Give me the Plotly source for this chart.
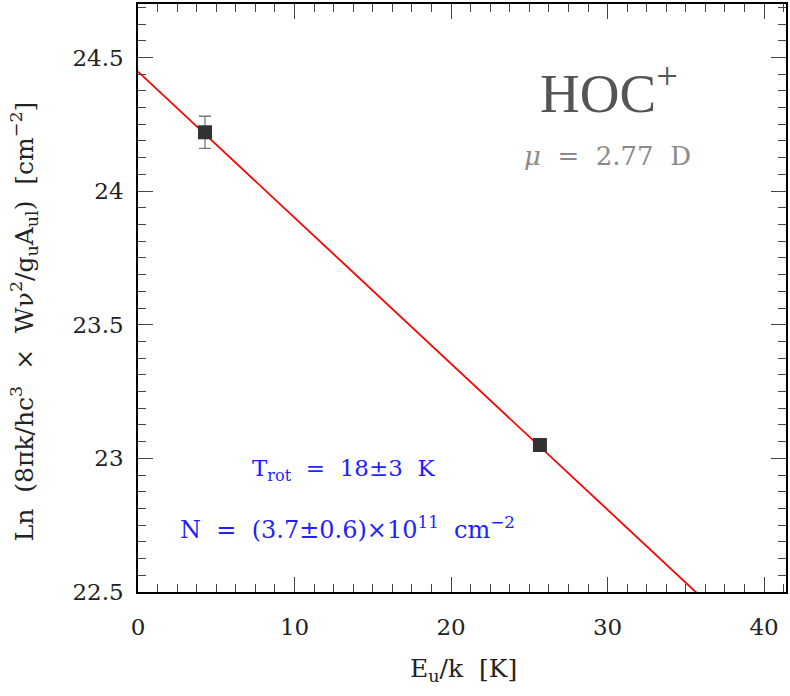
import plotly.graph_objects as go

# Data
eu_k = [4.28, 25.68]            # upper level energies [K]
ln_nu = [24.22, 23.05]          # Ln(...) values
ln_err = [0.06, 0.0]            # error bars
fit_intercept = 24.447          # value at Eu = 0
fit_trot = 18.3                 # rotational temperature [K]
fit_x = [0.0, 41.4]
fit_y = [fit_intercept - x / fit_trot for x in fit_x]

x_range = [0, 41.4]
y_range = [22.5, 24.7]

serif = "DejaVu Serif"

fig = go.Figure()
fig.add_trace(go.Scatter(
    x=fit_x, y=fit_y, mode="lines",
    line=dict(color="#ff0000", width=1.8),
    showlegend=False, hoverinfo="skip"))
fig.add_trace(go.Scatter(
    x=eu_k, y=ln_nu, mode="markers",
    marker=dict(symbol="square", size=14, color="#333333"),
    error_y=dict(type="data", array=ln_err, color="#777777", thickness=1.3, width=6),
    showlegend=False))

axis_common = dict(
    showgrid=False, zeroline=False,
    showline=True, linecolor="black", linewidth=1.5, mirror="ticks",
    ticks="inside", ticklen=15, tickwidth=1.2, tickcolor="#444444",
    tickfont=dict(family=serif, size=23, color="#222222"),
)

fig.update_xaxes(range=x_range, tick0=0, dtick=10,
                 minor=dict(dtick=1.25, ticklen=8, tickwidth=1, tickcolor="#444444", ticks="inside"),
                 ticklabelstandoff=14,
                 **axis_common)
fig.update_yaxes(range=y_range, tick0=22.5, dtick=0.5,
                 minor=dict(dtick=0.0625, ticklen=8, tickwidth=1, tickcolor="#444444", ticks="inside"),
                 ticklabelstandoff=8,
                 **axis_common)

annotations = [
    dict(x=(465 - 138) / 650, y=(592 - 670) / 590, xref="paper", yref="paper",
         text="E<sub>u</sub>/k  [K]", showarrow=False,
         font=dict(family=serif, size=25, color="#222222"), xanchor="center", yanchor="middle"),
    dict(x=(24 - 138) / 650, y=(592 - 320) / 590, xref="paper", yref="paper", textangle=-90,
         text="Ln  (8πk/hc<sup>3</sup>  ×  Wν<sup>2</sup>/g<sub>u</sub>A<sub>ul</sub>)  [cm<sup>−2</sup>]",
         showarrow=False, font=dict(family=serif, size=25, color="#222222"),
         xanchor="center", yanchor="middle"),
    dict(x=(610 - 138) / 650, y=(592 - 88) / 590, xref="paper", yref="paper",
         text="HOC<sup>+</sup>", showarrow=False,
         font=dict(family="Liberation Serif", size=55, color="#555555"),
         xanchor="center", yanchor="middle"),
    dict(x=(609 - 138) / 650, y=(592 - 155) / 590, xref="paper", yref="paper",
         text="<i>μ</i>  =  2.77  D", showarrow=False,
         font=dict(family=serif, size=26, color="#8a8a8a"),
         xanchor="center", yanchor="middle"),
    dict(x=(345 - 138) / 650, y=(592 - 470) / 590, xref="paper", yref="paper",
         text="T<sub>rot</sub>  =  18±3  K", showarrow=False,
         font=dict(family=serif, size=23, color="#1f1fff"),
         xanchor="center", yanchor="middle"),
    dict(x=(348 - 138) / 650, y=(592 - 528) / 590, xref="paper", yref="paper",
         text="N  =  (3.7±0.6)×10<sup>11</sup>  cm<sup>−2</sup>", showarrow=False,
         font=dict(family=serif, size=24, color="#1f1fff"),
         xanchor="center", yanchor="middle"),
]

fig.update_layout(
    width=790, height=696,
    margin=dict(l=138, r=2, t=2, b=104),
    paper_bgcolor="white", plot_bgcolor="white",
    annotations=annotations,
)

fig.write_html("out.html")
